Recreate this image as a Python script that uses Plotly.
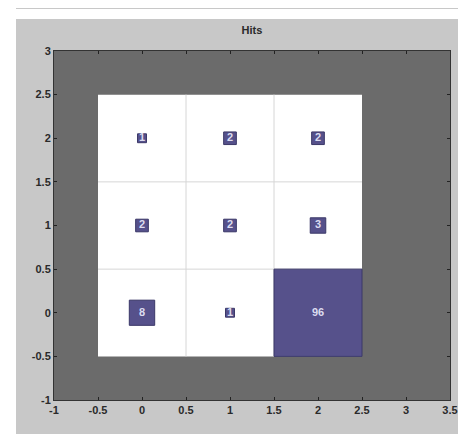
import numpy as np
import plotly.graph_objects as go

# Data
title = "Hits"
cell_x = [0, 1, 2, 0, 1, 2, 0, 1, 2]
cell_y = [0, 0, 0, 1, 1, 1, 2, 2, 2]
hits = [8, 1, 96, 2, 2, 3, 1, 2, 2]
x_ticks = [-1, -0.5, 0, 0.5, 1, 1.5, 2, 2.5, 3, 3.5]
y_ticks = [-1, -0.5, 0, 0.5, 1, 1.5, 2, 2.5, 3]

BLUE = "#56518b"
EDGE = "#3b3868"
TXT = "#dcdcf0"
DARK = "#6b6b6b"
FIG_GRAY = "#c8c8c8"
GRID = "#d6d6d6"

fig = go.Figure()

# white cells
xmin, xmax = min(cell_x) - 0.5, max(cell_x) + 0.5
ymin, ymax = min(cell_y) - 0.5, max(cell_y) + 0.5
fig.add_trace(go.Scatter(x=[xmin, xmax, xmax, xmin, xmin], y=[ymin, ymin, ymax, ymax, ymin],
                         fill="toself", fillcolor="white", mode="lines",
                         line=dict(width=0), hoverinfo="skip", showlegend=False))
# grid lines
for gx in sorted(set(cell_x))[:-1]:
    fig.add_trace(go.Scatter(x=[gx + 0.5, gx + 0.5], y=[ymin, ymax], mode="lines",
                             line=dict(color=GRID, width=1), hoverinfo="skip", showlegend=False))
for gy in sorted(set(cell_y))[:-1]:
    fig.add_trace(go.Scatter(x=[xmin, xmax], y=[gy + 0.5, gy + 0.5], mode="lines",
                             line=dict(color=GRID, width=1), hoverinfo="skip", showlegend=False))

hmax = max(hits)
for cx, cy, h in zip(cell_x, cell_y, hits):
    s = np.sqrt(h / hmax) / 2
    fig.add_trace(go.Scatter(x=[cx - s, cx + s, cx + s, cx - s, cx - s],
                             y=[cy - s, cy - s, cy + s, cy + s, cy - s],
                             fill="toself", fillcolor=BLUE, mode="lines",
                             line=dict(color=EDGE, width=1), hoverinfo="skip", showlegend=False))

fig.add_trace(go.Scatter(x=cell_x, y=cell_y, mode="text", text=[f"<b>{h}</b>" for h in hits],
                         textfont=dict(color=TXT, size=11, family="Liberation Sans"),
                         hoverinfo="skip", showlegend=False))

L, R, T, B = 46, 24, 43, 42
W, H = 466, 434
pw, ph = W - L - R, H - T - B
# white strips at top and left of the gray figure window
fig.add_shape(type="rect", xref="paper", yref="paper", layer="below",
              x0=-L / pw, x1=(W - L) / pw, y0=(H - T - 10) / ph, y1=(H - T) / ph,
              fillcolor="white", line=dict(width=0))
fig.add_shape(type="rect", xref="paper", yref="paper", layer="below",
              x0=-L / pw, x1=(8 - L) / pw, y0=-B / ph, y1=(H - B) / ph,
              fillcolor="white", line=dict(width=0))

axis_common = dict(showgrid=False, zeroline=False, ticks="inside", ticklen=3, tickwidth=1,
                   tickcolor="#222", showline=True, linecolor="#333", linewidth=1,
                   mirror="ticks", tickfont=dict(family="Liberation Sans", size=11, color="#2a2a2a"),
                   fixedrange=True)
fig.update_xaxes(range=[-1, 3.5], tickvals=x_ticks, ticktext=[f"<b>{v:g}</b>" for v in x_ticks], **axis_common)
fig.update_yaxes(range=[-1, 3], tickvals=y_ticks, ticktext=[f"<b>{v:g}</b>" for v in y_ticks], **axis_common)

fig.update_layout(width=W, height=H, margin=dict(l=L, r=R, t=T, b=B),
                  paper_bgcolor=FIG_GRAY, plot_bgcolor=DARK,
                  title=dict(text=f"<b>{title}</b>", x=(L + pw / 2) / W, xanchor="center", y=1 - 22 / H, yanchor="middle",
                             font=dict(family="Liberation Sans", size=11, color="#2a2a2a")))

fig.write_html("out.html")
